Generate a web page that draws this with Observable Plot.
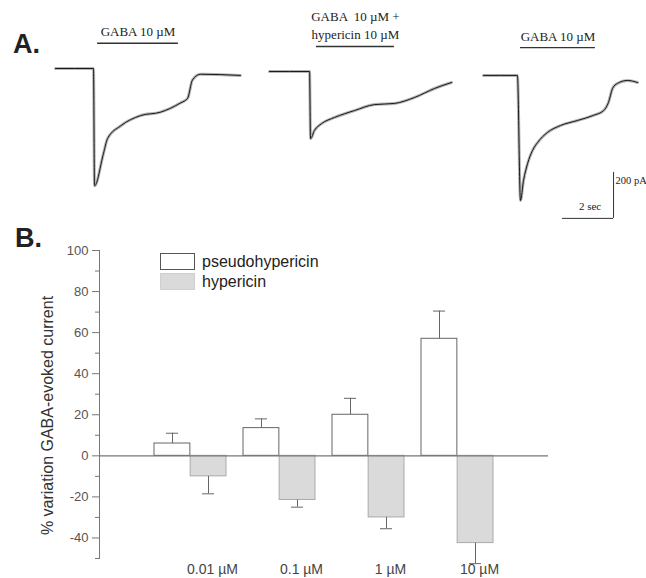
<!DOCTYPE html>
<html><head><meta charset="utf-8">
<script src="https://cdn.jsdelivr.net/npm/d3@7"></script>
<script src="https://cdn.jsdelivr.net/npm/@observablehq/plot@0.6"></script>
<style>
html,body{margin:0;padding:0;background:#fff;overflow:hidden;}
#wrap{position:relative;width:646px;height:578px;font-family:"Liberation Sans",Arial,sans-serif;}
#panelA{position:absolute;left:0;top:0;}
#panelB{position:absolute;left:0;top:222px;}
.plabel{position:absolute;font-family:"Liberation Sans",Arial,sans-serif;font-weight:bold;font-size:27px;color:#222;line-height:1;}
#legend{position:absolute;left:160px;top:253px;font-size:16px;color:#222;}
#legend .row{display:flex;align-items:center;height:17px;margin-bottom:3px;}
#legend .sw{width:35px;height:17px;box-sizing:border-box;margin-right:7px;}
</style></head><body>
<div id="wrap">
  <div id="panelA"></div>
  <div id="panelB"></div>
  <div class="plabel" style="left:13px;top:31px;">A.</div>
  <div class="plabel" style="left:15px;top:225px;">B.</div>
  <div id="legend"></div>
</div>
<script>
// ---------- Panel A data (time in s from trace start, current in pA) ----------
const traceNames = ["GABA", "GABA + hypericin", "GABA wash"];
const trace1Time    = [0, 1.49, 1.53, 1.88, 2.04, 2.55, 3.33, 4.12, 4.90, 5.18, 5.37, 5.69, 7.25];
const trace1Current = [0, 0, -510, -370, -305, -250, -205, -190, -150, -130, -50, -25, -30];
const trace2Time    = [0, 1.57, 1.61, 1.76, 2.04, 2.55, 3.33, 4.12, 4.90, 5.69, 6.47, 7.14];
const trace2Current = [-13, -13, -305, -270, -240, -213, -183, -157, -152, -126, -87, -61];
const trace3Time    = [0, 1.33, 1.45, 1.57, 1.73, 1.92, 2.12, 2.51, 3.02, 3.69, 4.31, 4.71, 4.90, 5.06, 5.25, 5.65, 6.04];
const trace3Current = [-30, -30, -574, -487, -413, -357, -322, -278, -248, -226, -204, -183, -148, -87, -65, -52, -61];
const appLabels = ["GABA 10 \u00b5M", "GABA  10 \u00b5M +\nhypericin 10 \u00b5M", "GABA 10 \u00b5M"];
const appStart  = [1.65, 1.84, 1.45];
const appEnd    = [4.82, 4.90, 4.39];
const appLevel  = [110, 96, 91];
const scaleBarTime = 2;      // s
const scaleBarCurrent = 200; // pA

// ---------- Panel B data ----------
const concentrations = ["0.01 \u00b5M", "0.1 \u00b5M", "1 \u00b5M", "10 \u00b5M"];
const seriesNames = ["pseudohypericin", "hypericin"];
const pseudoValues   = [6, 13.5, 20, 57];
const pseudoErrTop   = [11, 18, 28, 70.5];
const hyperValues    = [-10, -21.5, -30, -42.5];
const hyperErrBottom = [-18.5, -25, -35.5, -52.5];
const yMajorTicks = [-40, -20, 0, 20, 40, 60, 80, 100];
const yMinorTicks = [-50, -30, -10, 10, 30, 50, 70, 90];
const yTitle = "% variation GABA-evoked current";

// ---------- Panel A ----------
const times = [trace1Time, trace2Time, trace3Time];
const currents = [trace1Current, trace2Current, trace3Current];
const traceRows = traceNames.flatMap((n, k) => times[k].map((t, i) => ({trace: n, t, current: currents[k][i]})));
const appRows = traceNames.map((n, i) => ({trace: n, start: appStart[i], end: appEnd[i], level: appLevel[i], label: appLabels[i]}));

const pxPerSec = 25.5, pAPerPx = 4.35, hA = 222, baselinePx = 68, leftPx = 55, stepPx = 214;
const sbAnchor = [{trace: traceNames[2], t: 5.10, i: -652}];
const serif = "'Liberation Serif', 'Times New Roman', serif";

const figA = Plot.plot({
  width: 646, height: hA,
  marginLeft: 0, marginRight: 4, marginTop: 0, marginBottom: 0,
  style: {overflow: "visible", background: "transparent"},
  fx: {domain: traceNames, padding: 0, axis: null, label: null},
  x: {domain: [-leftPx / pxPerSec, (stepPx - leftPx) / pxPerSec], axis: null},
  y: {domain: [-(hA - baselinePx) * pAPerPx, baselinePx * pAPerPx], axis: null},
  marks: [
    Plot.line(traceRows, {fx: "trace", x: "t", y: "current", stroke: "#b4b4b4", strokeWidth: 3, curve: "monotone-x"}),
    Plot.line(traceRows, {fx: "trace", x: "t", y: "current", stroke: "#1a1a1a", strokeWidth: 1, curve: "monotone-x"}),
    Plot.ruleY(appRows, {fx: "trace", x1: "start", x2: "end", y: "level", stroke: "#333", strokeWidth: 1.4}),
    Plot.text(appRows, {fx: "trace", x: d => (d.start + d.end) / 2, y: "level", text: "label",
      lineAnchor: "bottom", dy: -7, lineHeight: 1.38, fontSize: 13, fontFamily: serif, fill: "#222"}),
    Plot.ruleX(sbAnchor, {fx: "trace", x: "t", y1: "i", y2: d => d.i + scaleBarCurrent, stroke: "#333", strokeWidth: 1}),
    Plot.ruleY(sbAnchor, {fx: "trace", y: "i", x1: d => d.t - scaleBarTime, x2: "t", stroke: "#333", strokeWidth: 1}),
    Plot.text(sbAnchor, {fx: "trace", x: "t", y: d => d.i + scaleBarCurrent, text: () => scaleBarCurrent + " pA",
      textAnchor: "start", lineAnchor: "top", dx: 2, dy: 4, fontSize: 10.5, fontFamily: serif, fill: "#222"}),
    Plot.text(sbAnchor, {fx: "trace", x: d => d.t - scaleBarTime / 2, y: "i", text: () => scaleBarTime + " sec",
      lineAnchor: "bottom", dy: -8, dx: 2, fontSize: 11, fontFamily: serif, fill: "#222"})
  ]
});
document.getElementById("panelA").appendChild(figA);

// ---------- Panel B ----------
const pseudoRows = concentrations.map((c, i) => ({conc: c, value: pseudoValues[i], err: pseudoErrTop[i]}));
const hyperRows  = concentrations.map((c, i) => ({conc: c, value: hyperValues[i], err: hyperErrBottom[i]}));
const sans = "'Liberation Sans', Arial, sans-serif";
const pseudoFill = "#ffffff", hyperFill = "#dadada";

const figB = Plot.plot({
  width: 646, height: 356,
  marginLeft: 99, marginRight: 98, marginTop: 28, marginBottom: 20,
  style: {overflow: "visible", background: "transparent", fontFamily: sans},
  x: {type: "band", domain: concentrations, paddingInner: 0.19, paddingOuter: 0.61, axis: null},
  y: {domain: [-50, 100], axis: null},
  marks: [
    Plot.barY(pseudoRows, {x: "conc", y: "value", insetRight: 36.15, fill: pseudoFill, stroke: "#666", strokeWidth: 1}),
    Plot.barY(hyperRows, {x: "conc", y: "value", insetLeft: 36.15, fill: hyperFill, stroke: "#aaa", strokeWidth: 1}),
    Plot.ruleX(pseudoRows, {x: "conc", y1: "value", y2: "err", dx: -18, stroke: "#666"}),
    Plot.tickY(pseudoRows, {x: "conc", y: "err", insetLeft: 12, insetRight: 48, stroke: "#666"}),
    Plot.ruleX(hyperRows, {x: "conc", y1: "value", y2: "err", dx: 18, stroke: "#666"}),
    Plot.tickY(hyperRows, {x: "conc", y: "err", insetLeft: 48, insetRight: 12, stroke: "#666"}),
    Plot.ruleY([0], {stroke: "#777", strokeWidth: 1.2}),
    Plot.frame({anchor: "left", stroke: "#777"}),
    Plot.axisY({ticks: yMajorTicks, tickSize: 7, tickPadding: 4, tickFormat: d => String(d), label: null, fontSize: 13, color: "#555", stroke: "#777"}),
    Plot.axisY({ticks: yMinorTicks, tickSize: 4, tickFormat: () => "", label: null, stroke: "#777"}),
    Plot.axisX({tickSize: 0, tickPadding: 6, dx: 22, label: null, fontSize: 14, color: "#444"}),
    Plot.text([yTitle], {text: d => d, frameAnchor: "left", textAnchor: "middle", rotate: -90, dx: -52, dy: 11, fontSize: 16, fill: "#333"})
  ]
});
document.getElementById("panelB").appendChild(figB);

// ---------- Legend ----------
const legend = document.getElementById("legend");
const legendStyles = [
  {fill: pseudoFill, border: "1px solid #555"},
  {fill: hyperFill, border: "1px solid #cfcfcf"}
];
seriesNames.forEach((name, i) => {
  const row = document.createElement("div");
  row.className = "row";
  const sw = document.createElement("div");
  sw.className = "sw";
  sw.style.background = legendStyles[i].fill;
  sw.style.border = legendStyles[i].border;
  const lab = document.createElement("span");
  lab.textContent = name;
  row.appendChild(sw); row.appendChild(lab);
  legend.appendChild(row);
});
</script>
</body></html>
